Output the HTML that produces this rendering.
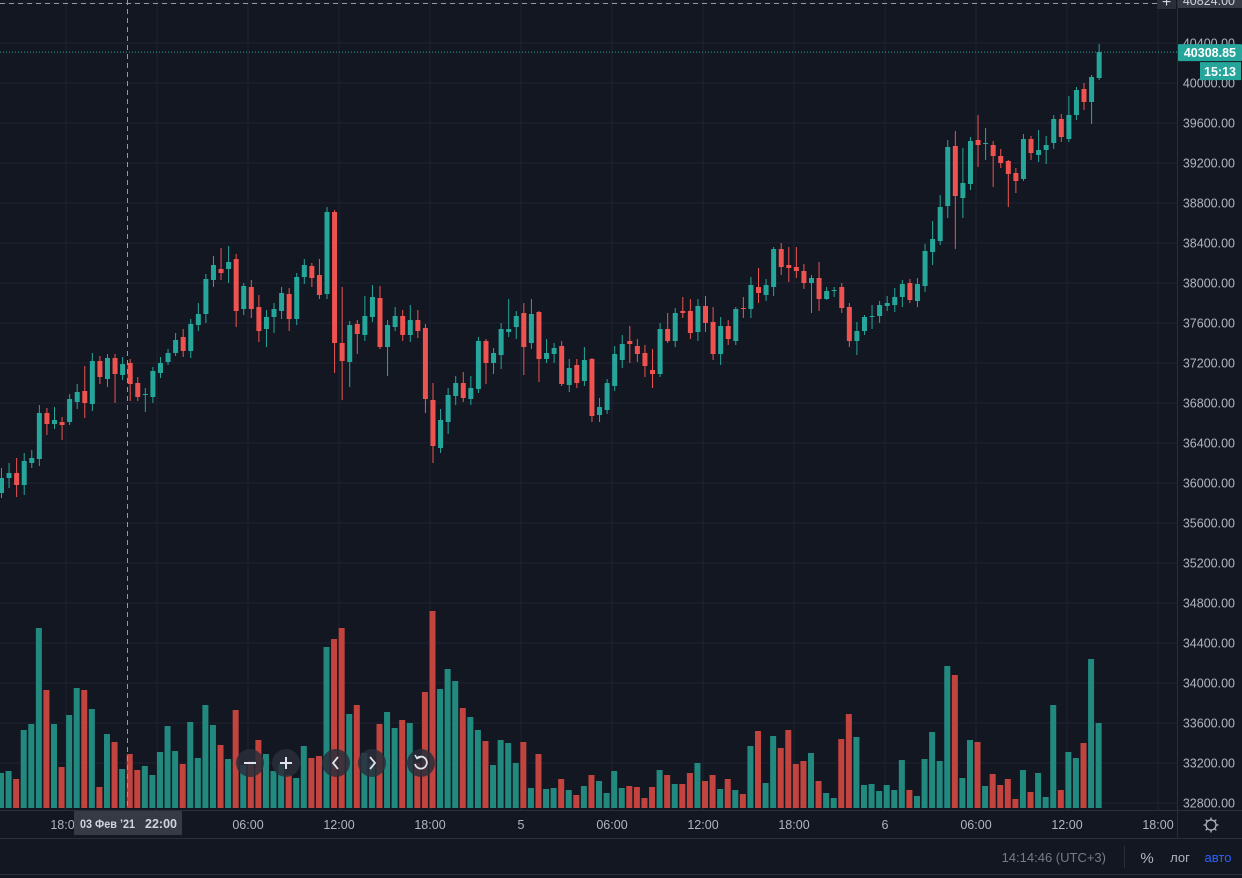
<!DOCTYPE html>
<html><head><meta charset="utf-8">
<style>
html,body{margin:0;padding:0;background:#131722;overflow:hidden}
#wrap{position:relative;width:1242px;height:878px;background:#131722;font-family:"Liberation Sans",sans-serif}
svg text{font-family:"Liberation Sans",sans-serif}
</style></head>
<body>
<div id="wrap">
<svg id="chart" width="1242" height="878" xmlns="http://www.w3.org/2000/svg"></svg>
</div>
<script>
const opens=[35900,36050,36100,35980,36200,36240,36700,36590,36610,36610,
36810,36920,36790,37220,37040,37250,37080,37200,37000,36880,
36860,37100,37210,37300,37460,37320,37580,37690,38030,38140,
38140,38240,37740,37960,37760,37540,37660,37720,37890,37640,
38060,38170,38080,37890,38710,37400,37210,37590,37480,37660,
37850,37360,37560,37670,37480,37630,37550,36830,36350,36610,
36870,37000,36840,36940,37420,37200,37280,37510,37560,37700,
37400,37710,37240,37290,37370,36980,37180,37020,37240,36680,
36730,36970,37230,37420,37370,37300,37130,37090,37540,37420,
37720,37720,37510,37770,37610,37290,37570,37420,37750,37740,
37960,37880,37960,38340,38180,38160,38120,38000,38050,37840,
37920,37960,37760,37420,37520,37660,37670,37770,37780,37860,
38000,37820,37970,38310,38420,38770,39370,38850,38990,39430,
39390,39380,39270,39220,39100,39040,39440,39280,39330,39400,
39640,39440,39680,39940,39810,40050];
const closes=[36050,36100,35980,36220,36250,36700,36590,36630,36580,36840,
36910,36800,37220,37060,37250,37090,37190,36990,36860,36890,
37120,37200,37300,37430,37320,37590,37690,38040,38180,38100,
38210,37720,37970,37740,37520,37660,37740,37900,37640,38060,
38180,38050,37880,38710,37400,37220,37580,37490,37670,37860,
37360,37580,37670,37480,37630,37520,36840,36370,36630,36880,
37000,36850,36950,37420,37200,37300,37540,37540,37670,37360,
37690,37240,37300,37350,36990,37150,37000,37230,36670,36760,
37000,37290,37390,37390,37290,37170,37090,37540,37420,37700,
37700,37500,37770,37600,37290,37570,37440,37740,37740,37980,
37900,37980,38340,38160,38150,38120,38000,38050,37840,37920,
37930,37750,37420,37520,37660,37670,37780,37800,37860,37990,
37830,37990,38320,38440,38760,39360,38870,39000,39420,39380,
39400,39270,39200,39090,39020,39440,39300,39330,39380,39640,
39460,39680,39930,39810,40060,40308.85];
const highs=[36150,36200,36250,36300,36330,36780,36750,36760,36660,36890,
36990,37170,37300,37270,37290,37290,37260,37240,37060,36950,
37160,37260,37340,37500,37540,37640,37800,38090,38270,38350,
38370,38290,38000,38030,37880,37730,37800,37960,37950,38100,
38240,38200,38240,38760,38730,37960,37620,37630,37870,37980,
37970,37630,37760,37730,37780,37730,37590,37000,36740,36950,
37070,37110,37070,37460,37440,37350,37600,37840,37720,37800,
37840,37720,37440,37400,37420,37240,37240,37360,37250,36850,
37040,37370,37480,37570,37440,37380,37340,37600,37700,37750,
37860,37840,37840,37870,37760,37660,37630,37760,37860,38060,
38150,38040,38360,38400,38360,38360,38190,38080,38210,37960,
37960,38000,37800,37610,37680,37780,37820,37870,37950,38030,
38040,38050,38390,38620,38880,39430,39520,39350,39460,39680,
39550,39420,39340,39230,39150,39490,39470,39530,39470,39680,
39690,39870,39960,40000,40080,40390];
const lows=[35850,35950,35860,35880,36150,36170,36480,36540,36430,36580,
36740,36650,36720,36990,36960,36800,37030,36820,36820,36710,
36800,37050,37180,37270,37260,37250,37520,37600,37960,38030,
38000,37560,37680,37650,37410,37360,37500,37640,37520,37580,
37990,37960,37840,37840,37100,36830,36960,37290,37420,37610,
37340,37070,37520,37420,37410,37450,36700,36200,36300,36490,
36780,36810,36780,36900,36990,37090,37140,37460,37440,37080,
37340,37010,37200,37200,36970,36910,36950,36970,36610,36610,
36690,36920,37150,37200,37210,37060,36950,37060,37400,37360,
37650,37440,37420,37510,37230,37180,37380,37380,37650,37650,
37800,37820,37870,38080,38010,38050,37940,37700,37720,37830,
37860,37700,37360,37280,37480,37540,37600,37720,37710,37760,
37800,37760,37910,38180,38380,38650,38340,38650,38930,39160,
39230,38960,39150,38760,38900,39020,39230,39210,39190,39340,
39410,39410,39630,39730,39590,40030];
const volumes=[350,370,290,780,840,1800,1180,840,410,930,
1200,1180,990,210,740,660,390,540,380,420,
330,560,820,570,440,860,500,1030,830,630,
490,980,430,470,680,540,370,440,330,300,
620,500,520,1610,1690,1800,940,1030,550,450,
840,960,800,880,850,450,1160,1970,1190,1390,
1270,1000,910,780,670,430,680,650,450,660,
200,540,190,200,290,180,130,220,330,270,
150,370,200,220,210,100,210,380,330,240,
240,350,450,270,330,190,290,180,140,620,
770,250,720,600,780,440,470,550,270,150,
100,690,940,710,230,240,170,230,180,480,
180,120,490,760,470,1420,1330,300,680,660,
220,340,230,290,90,380,160,350,110,1030,
180,560,500,650,1490,850];
const priceTicks=[40400,40000,39600,39200,38800,38400,38000,37600,37200,36800,36400,36000,35600,35200,34800,34400,34000,33600,33200,32800];
const timeLabels=["18:00","00:00","06:00","12:00","18:00","5","06:00","12:00","18:00","6","06:00","12:00","18:00"];
const lastPrice=40308.85;

const svg=document.getElementById('chart');
const NS='http://www.w3.org/2000/svg';
const PW=1177, PB=810;
function yP(p){return 43+(40400-p)/10;}
function xI(i){return 1+7.57*i;}
function yV(v){return 808-v/10;}
function mk(t,a,parent){const e=document.createElementNS(NS,t);for(const k in a)e.setAttribute(k,a[k]);(parent||svg).appendChild(e);return e;}
const UP='#26a69a',DN='#ef5350';

const grid=mk('g',{});


for(let k=0;k<13;k++){const x=66+91*k;mk('line',{x1:x,y1:0,x2:x,y2:PB,stroke:'#1f2330','stroke-width':1},grid);}
priceTicks.forEach(p=>{mk('line',{x1:0,y1:yP(p),x2:PW,y2:yP(p),stroke:'#1f2330','stroke-width':1},grid);});
mk('line',{x1:0,y1:3,x2:PW,y2:3,stroke:'#1f2330'},grid);

const vg=mk('g',{});


volumes.forEach((v,i)=>{
  const up=closes[i]>=opens[i];
  const r=mk('rect',{x:xI(i)-3,y:yV(v),width:6,height:808-yV(v),fill:up?'#22897f':'#c3443f'},vg);
  
  
});

const cg=mk('g',{});


opens.forEach((o,i)=>{
  const c=closes[i],up=c>=o,col=up?UP:DN,x=xI(i);
  const g=mk('g',{},cg);
  
  
  mk('line',{x1:x+0.5,y1:yP(highs[i]),x2:x+0.5,y2:yP(lows[i]),stroke:col,'stroke-width':1},g);
  const t=yP(Math.max(o,c)),b=yP(Math.min(o,c));
  mk('rect',{x:x-2,y:t,width:5,height:Math.max(1,b-t),fill:col},g);
});

const ch=mk('g',{});


mk('line',{x1:127.5,y1:0,x2:127.5,y2:PB,stroke:'#9598a1','stroke-width':1,'stroke-dasharray':'5,4'},ch);
mk('line',{x1:0,y1:3.5,x2:PW,y2:3.5,stroke:'#9598a1','stroke-width':1,'stroke-dasharray':'5,4'},ch);

const lp=mk('line',{x1:0,y1:yP(lastPrice),x2:PW,y2:yP(lastPrice),stroke:UP,'stroke-width':1,'stroke-dasharray':'1,2'});



mk('line',{x1:PW+0.5,y1:0,x2:PW+0.5,y2:838,stroke:'#2a2e39'});
mk('line',{x1:0,y1:PB+0.5,x2:1242,y2:PB+0.5,stroke:'#2a2e39'});
mk('line',{x1:0,y1:838.5,x2:1242,y2:838.5,stroke:'#2a2e39'});

const pa=mk('g',{});


priceTicks.forEach(p=>{
  const t=mk('text',{x:1235,y:yP(p)+4.5,'text-anchor':'end','font-size':12.5,fill:'#b2b5be'},pa);
  t.textContent=p.toFixed(2);
  
  
});
mk('rect',{x:PW+1,y:-10,width:65,height:18,fill:'#363a45'},pa);
const tl=mk('text',{x:1235,y:5,'text-anchor':'end','font-size':12.5,fill:'#d1d4dc'},pa);
tl.textContent='40824.00';


mk('rect',{x:1157,y:-8,width:19,height:17,fill:'#2a2e39'});
const pl=mk('text',{x:1166.5,y:7,'text-anchor':'middle','font-size':16,fill:'#d1d4dc'});
pl.textContent='+';


mk('rect',{x:PW+1,y:yP(lastPrice)-8,width:64,height:17,fill:UP,rx:1});
const lpt=mk('text',{x:1236,y:yP(lastPrice)+5,'text-anchor':'end','font-size':12.5,'font-weight':'bold',fill:'#ffffff'});
lpt.textContent=lastPrice.toFixed(2);


mk('rect',{x:1200,y:yP(lastPrice)+10,width:41,height:18,fill:UP});
const cd=mk('text',{x:1236,y:yP(lastPrice)+24,'text-anchor':'end','font-size':12.5,'font-weight':'bold',fill:'#ffffff'});
cd.textContent='15:13';



const ta=mk('g',{});


timeLabels.forEach((s,k)=>{
  const t=mk('text',{x:66+91*k,y:829,'text-anchor':'middle','font-size':12.5,fill:'#b2b5be'},ta);
  t.textContent=s;
  
  
});
mk('rect',{x:74,y:811,width:108,height:24,fill:'#363a45'},ta);
const cl=mk('text',{x:80,y:828,'font-size':12,'font-weight':'bold',fill:'#d1d4dc',textLength:55,lengthAdjust:'spacingAndGlyphs'},ta);
cl.textContent='03 Фев \u201921';


const cl2=mk('text',{x:177,y:828,'text-anchor':'end','font-size':12.5,'font-weight':'bold',fill:'#d1d4dc'},ta);
cl2.textContent='22:00';


const gear=mk('g',{},ta);


mk('circle',{cx:1211,cy:825,r:5,fill:'none',stroke:'#b2b5be','stroke-width':1.3},gear);
for(let a=0;a<8;a++){const r=a*Math.PI/4;mk('line',{x1:1211+Math.cos(r)*5,y1:825+Math.sin(r)*5,x2:1211+Math.cos(r)*7.5,y2:825+Math.sin(r)*7.5,stroke:'#b2b5be','stroke-width':1.3},gear);}

const btns=[[250,'minus'],[286,'plus'],[336,'left'],[372,'right'],[421,'reset']];
btns.forEach(([x,k])=>{
  const g=mk('g',{});
  
  
  mk('circle',{cx:x,cy:763,r:14,fill:'rgba(42,46,57,0.85)'},g);
  const s='#e0e3eb';
  if(k==='minus')mk('line',{x1:x-6,y1:763,x2:x+6,y2:763,stroke:s,'stroke-width':2},g);
  if(k==='plus'){mk('line',{x1:x-6,y1:763,x2:x+6,y2:763,stroke:s,'stroke-width':2},g);mk('line',{x1:x,y1:757,x2:x,y2:769,stroke:s,'stroke-width':2},g);}
  if(k==='left')mk('polyline',{points:`${x+2},757 ${x-3},763 ${x+2},769`,fill:'none',stroke:s,'stroke-width':1.8},g);
  if(k==='right')mk('polyline',{points:`${x-2},757 ${x+3},763 ${x-2},769`,fill:'none',stroke:s,'stroke-width':1.8},g);
  if(k==='reset'){mk('path',{d:`M ${x-4} ${758} A 6 6 0 1 1 ${x-6} ${764}`,fill:'none',stroke:s,'stroke-width':1.8},g);mk('polyline',{points:`${x-6},755 ${x-4},758.5 ${x-0.5},757`,fill:'none',stroke:s,'stroke-width':1.6},g);}
});

const bb=mk('g',{});


const clk=mk('text',{x:1106,y:862,'text-anchor':'end','font-size':13,fill:'#787b86'},bb);
clk.textContent='14:14:46 (UTC+3)';


mk('line',{x1:1124.5,y1:846,x2:1124.5,y2:868,stroke:'#2a2e39'},bb);
const pc=mk('text',{x:1147,y:863,'text-anchor':'middle','font-size':15,fill:'#b2b5be'},bb);
pc.textContent='%';


const lg=mk('text',{x:1180,y:862,'text-anchor':'middle','font-size':13,fill:'#b2b5be'},bb);
lg.textContent='лог';


const au=mk('text',{x:1218,y:862,'text-anchor':'middle','font-size':13,fill:'#2962ff'},bb);
au.textContent='авто';


mk('line',{x1:0,y1:874.5,x2:1242,y2:874.5,stroke:'#2a2e39'});
</script>
</body></html>
